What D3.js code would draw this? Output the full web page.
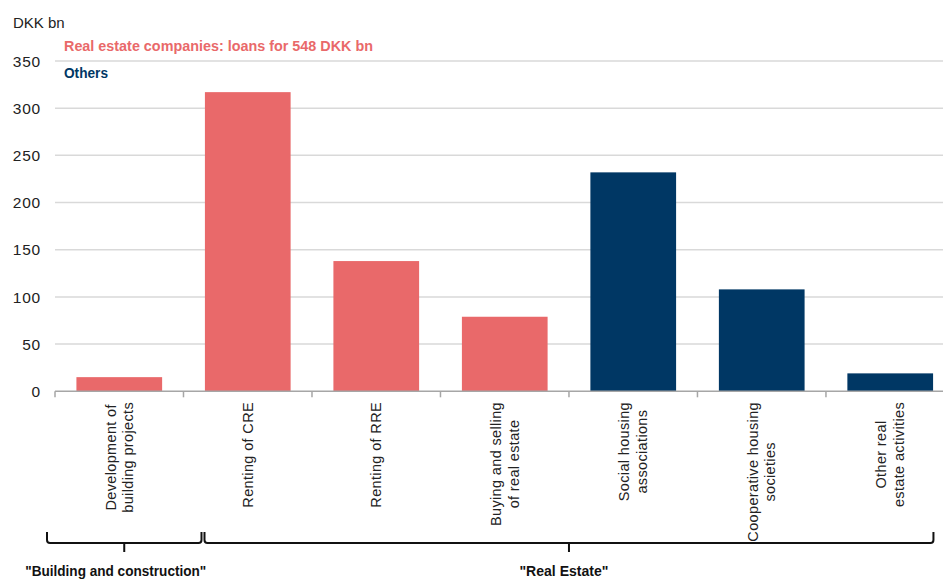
<!DOCTYPE html>
<html>
<head>
<meta charset="utf-8">
<script src="https://cdn.jsdelivr.net/npm/d3@7"></script>
<style>
  html, body { margin: 0; padding: 0; background: #fff; }
  svg { display: block; }
</style>
</head>
<body>
<svg id="chart" width="943" height="579"></svg>
<script>
// ---- data ----
const categories = [
  "Development of\nbuilding projects",
  "Renting of CRE",
  "Renting of RRE",
  "Buying and selling\nof real estate",
  "Social housing\nassociations",
  "Cooperative housing\nsocieties",
  "Other real\nestate activities"
];
const values = [15, 317, 138, 79, 232, 108, 19];
const groups = ["real", "real", "real", "real", "other", "other", "other"];
const yTicks = [0, 50, 100, 150, 200, 250, 300, 350];
const legendLabels = ["Real estate companies: loans for 548 DKK bn", "Others"];
const bracketGroups = [
  { label: "\"Building and construction\"", from: 0, to: 0 },
  { label: "\"Real Estate\"", from: 1, to: 6 }
];
const unitLabel = "DKK bn";

// ---- layout ----
const colors = { real: "#e9696a", other: "#003764" };
const boldFont = "Liberation Sans, Arial, sans-serif";
const svg = d3.select("#chart");

const x = d3.scaleBand()
  .domain(categories)
  .range([55, 954.5])
  .paddingInner(0.333)
  .paddingOuter(0.1667);

const y = d3.scaleLinear().domain([0, 350]).range([391.3, 61]);

// gridlines
svg.append("g")
  .selectAll("line")
  .data(yTicks.filter(d => d > 0))
  .join("line")
  .attr("x1", 55).attr("x2", 943)
  .attr("y1", d => y(d)).attr("y2", d => y(d))
  .attr("stroke", "#d9d9d9").attr("stroke-width", 1.5);

// y tick labels
svg.append("g")
  .selectAll("text")
  .data(yTicks)
  .join("text")
  .attr("x", 41).attr("y", d => y(d))
  .attr("dy", "0.36em")
  .attr("text-anchor", "end")
  .attr("font-family", "Liberation Sans, Arial, sans-serif")
  .attr("font-size", 15.5)
  .attr("letter-spacing", 0.8)
  .attr("fill", "#222")
  .text(d => d);

svg.append("text")
  .attr("x", 13).attr("y", 28)
  .attr("font-family", "Liberation Sans, Arial, sans-serif")
  .attr("font-size", 15)
  .attr("fill", "#222")
  .text(unitLabel);

// bars
svg.append("g")
  .selectAll("rect")
  .data(categories)
  .join("rect")
  .attr("x", d => x(d))
  .attr("width", x.bandwidth())
  .attr("y", (d, i) => y(values[i]))
  .attr("height", (d, i) => y(0) - y(values[i]))
  .attr("fill", (d, i) => colors[groups[i]]);

// x axis line and ticks at band boundaries
const step = x.step();
const x0 = x.range()[0];
const boundaries = d3.range(categories.length + 1).map(i => x0 + i * step);
svg.append("line")
  .attr("x1", x0).attr("x2", 943)
  .attr("y1", y(0)).attr("y2", y(0))
  .attr("stroke", "#a6a6a6").attr("stroke-width", 1.5);
svg.append("g")
  .selectAll("line")
  .data(boundaries)
  .join("line")
  .attr("x1", d => d).attr("x2", d => d)
  .attr("y1", y(0)).attr("y2", y(0) + 6)
  .attr("stroke", "#a6a6a6").attr("stroke-width", 1.5);

// category labels (rotated, multiline centered, top aligned)
const lineGap = 17.5;
const labelTop = 402;
const lab = svg.append("g")
  .selectAll("g")
  .data(categories)
  .join("g");
lab.each(function(d) {
  const g = d3.select(this);
  const lines = d.split("\n");
  const cx = x(d) + x.bandwidth() / 2;
  const t = g.append("text")
    .attr("font-family", "Liberation Sans, Arial, sans-serif")
    .attr("font-size", 14.5)
    .attr("letter-spacing", 0.35)
    .attr("fill", "#222")
    .attr("text-anchor", "middle");
  lines.forEach((ln, k) => {
    t.append("tspan")
      .attr("x", 0)
      .attr("y", (k - (lines.length - 1) / 2) * lineGap)
      .attr("dominant-baseline", "central")
      .text(ln);
  });
  let maxLen = 0;
  t.selectAll("tspan").each(function() {
    maxLen = Math.max(maxLen, this.getComputedTextLength());
  });
  const cy = labelTop + maxLen / 2;
  t.attr("transform", `translate(${cx},${cy}) rotate(-90)`);
});

// legend (condensed bold look via textLength)
svg.append("text")
  .attr("x", 64).attr("y", 51)
  .attr("font-family", boldFont)
  .attr("font-weight", "bold")
  .attr("font-size", 15.5)
  .attr("textLength", 309)
  .attr("lengthAdjust", "spacingAndGlyphs")
  .attr("fill", colors.real)
  .text(legendLabels[0]);
svg.append("text")
  .attr("x", 64).attr("y", 78)
  .attr("font-family", boldFont)
  .attr("font-weight", "bold")
  .attr("font-size", 15.5)
  .attr("textLength", 44)
  .attr("lengthAdjust", "spacingAndGlyphs")
  .attr("fill", colors.other)
  .text(legendLabels[1]);

// brackets
const bracketTop = 532, bracketY = 543, bracketTick = 552;
const spans = [
  [boundaries[0] - 8, boundaries[1] + 18],
  [boundaries[1] + 21, boundaries[7] - 21]
];
const labelShift = [-8.5, -5];
const labelLen = [181, 89];
bracketGroups.forEach((bg, i) => {
  const [a, b] = spans[i];
  const m = (a + b) / 2;
  const r = 3;
  svg.append("path")
    .attr("d", `M${a},${bracketTop} L${a},${bracketY - r} Q${a},${bracketY} ${a + r},${bracketY}
                L${b - r},${bracketY} Q${b},${bracketY} ${b},${bracketY - r} L${b},${bracketTop}
                M${m},${bracketY} L${m},${bracketTick}`)
    .attr("fill", "none")
    .attr("stroke", "#111")
    .attr("stroke-width", 2);
  const cx = m + labelShift[i];
  svg.append("text")
    .attr("x", cx - labelLen[i] / 2).attr("y", 576)
    .attr("font-family", boldFont)
    .attr("font-weight", "bold")
    .attr("font-size", 15.5)
    .attr("textLength", labelLen[i])
    .attr("lengthAdjust", "spacingAndGlyphs")
    .attr("fill", "#111")
    .text(bg.label);
});
</script>
</body>
</html>
